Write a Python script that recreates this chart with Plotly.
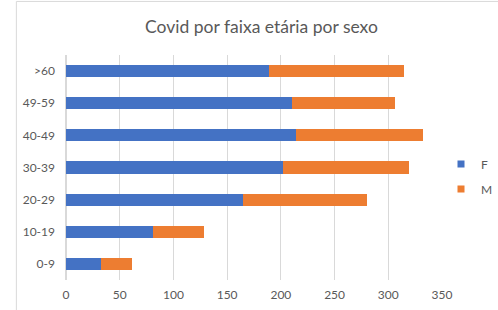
import plotly.graph_objects as go

categories = ["0-9", "10-19", "20-29", "30-39", "40-49", "49-59", ">60"]
female = [33, 81, 165, 202, 214, 210, 189]
male = [28, 47, 115, 117, 118, 96, 126]
x_ticks = [0, 50, 100, 150, 200, 250, 300, 350]

BLUE = "#4472C4"
ORANGE = "#ED7D31"
TEXT = "#595959"
GRID = "#D9D9D9"
FONT = "Lato, Open Sans, sans-serif"

fig = go.Figure()
fig.add_trace(go.Bar(y=categories, x=female, orientation="h", name="F",
                     marker=dict(color=BLUE, line=dict(width=0)), showlegend=False))
fig.add_trace(go.Bar(y=categories, x=male, orientation="h", name="M",
                     marker=dict(color=ORANGE, line=dict(width=0)), showlegend=False))
# legend entries with small square markers
fig.add_trace(go.Scatter(x=[None], y=[None], mode="markers", name="F", legendgroup="F",
                         marker=dict(symbol="square", size=7, color=BLUE)))
fig.add_trace(go.Scatter(x=[None], y=[None], mode="markers", name="M", legendgroup="M",
                         marker=dict(symbol="square", size=7, color=ORANGE)))

fig.update_layout(
    width=498, height=310,
    margin=dict(l=66, r=56, t=55, b=30, autoexpand=False),
    paper_bgcolor="white", plot_bgcolor="white",
    barmode="stack", bargap=0.62,
    font=dict(family=FONT, size=12, color=TEXT),
    title=dict(text="Covid por faixa etária por sexo", xref="container", yref="container",
               x=0.525, xanchor="center", y=0.913, yanchor="middle",
               font=dict(family=FONT, size=17.5, color=TEXT)),
    legend=dict(xref="container", yref="container", x=441 / 498, xanchor="left",
                y=0.431, yanchor="middle",
                traceorder="grouped", tracegroupgap=6,
                font=dict(family=FONT, size=12, color=TEXT),
                itemwidth=30, bgcolor="rgba(0,0,0,0)"),
    xaxis=dict(range=[0, 350], tickvals=x_ticks, ticktext=[str(v) for v in x_ticks],
               showgrid=True, gridcolor=GRID, gridwidth=1, zeroline=True, zerolinecolor=GRID,
               showline=False, ticks="", ticklabelstandoff=6, fixedrange=True),
    yaxis=dict(categoryorder="array", categoryarray=categories, range=[-0.5, 6.5],
               showgrid=False, zeroline=False, showline=False, ticks="",
               ticklabelstandoff=10, fixedrange=True),
    shapes=[dict(type="rect", xref="paper", yref="paper",
                 x0=-0.132, x1=1.3, y0=-0.3, y1=1.238,
                 line=dict(color=GRID, width=1), fillcolor="rgba(0,0,0,0)", layer="below")],
)

fig.write_html("out.html", config={"displayModeBar": False},
               post_script="document.body.style.margin='0';document.body.style.overflow='hidden';")
